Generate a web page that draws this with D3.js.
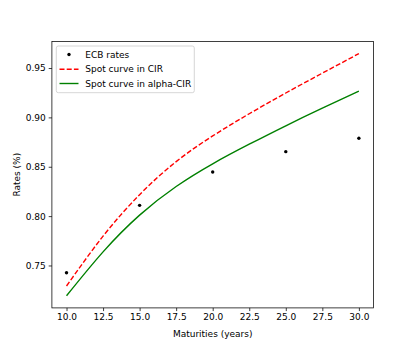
<!DOCTYPE html>
<html>
<head>
<meta charset="utf-8">
<script src="https://cdn.jsdelivr.net/npm/d3@7"></script>
<style>
  html, body { margin: 0; padding: 0; background: #fff; }
  svg { display: block; }
  text { font-family: "DejaVu Sans", sans-serif; }
</style>
</head>
<body>
<svg id="chart" width="415" height="346"></svg>
<script>
// ---- data ----
const maturities = [10, 15, 20, 25, 30];
const ecbRates = [0.7426, 0.8109, 0.8447, 0.8653, 0.8788];
const curveMaturities = [10, 12.5, 15, 17.5, 20, 22.5, 25, 27.5, 30];
const cirSpot = [0.7292, 0.7797, 0.8217, 0.8552, 0.8812, 0.9037, 0.9247, 0.9448, 0.9646];
const alphaCirSpot = [0.7193, 0.7638, 0.8010, 0.8300, 0.8530, 0.8728, 0.8915, 0.9093, 0.9265];
const xTicks = [10, 12.5, 15, 17.5, 20, 22.5, 25, 27.5, 30];
const yTicks = [0.75, 0.80, 0.85, 0.90, 0.95];
const legendLabels = ["ECB rates", "Spot curve in CIR", "Spot curve in alpha-CIR"];
const xLabel = "Maturities (years)";
const yLabel = "Rates (%)";

(function () {
// ---- layout ----
const mLeft = 51.9, mRight = 373.5, mTop = 41.5, mBottom = 307.9;
const svg = d3.select("#chart");

const allX = maturities.concat(curveMaturities);
const allY = ecbRates.concat(cirSpot, alphaCirSpot);
const [x0, x1] = d3.extent(allX);
const [y0, y1] = d3.extent(allY);
const mx = (x1 - x0) * 0.05, my = (y1 - y0) * 0.05;

const x = d3.scaleLinear().domain([x0 - mx, x1 + mx]).range([mLeft, mRight]);
const y = d3.scaleLinear().domain([y0 - my, y1 + my]).range([mBottom, mTop]);

const fontSize = 9;

// axes
const xAxis = d3.axisBottom(x).tickValues(xTicks).tickFormat(d3.format(".1f"))
  .tickSizeInner(3.2).tickSizeOuter(0).tickPadding(3);
const yAxis = d3.axisLeft(y).tickValues(yTicks).tickFormat(d3.format(".2f"))
  .tickSizeInner(3.2).tickSizeOuter(0).tickPadding(3);

const gx = svg.append("g").attr("transform", `translate(0,${mBottom})`).call(xAxis);
const gy = svg.append("g").attr("transform", `translate(${mLeft},0)`).call(yAxis);
[gx, gy].forEach(g => {
  g.select(".domain").remove();
  g.selectAll(".tick line").attr("stroke", "#000").attr("stroke-width", 0.75);
  g.selectAll(".tick text").attr("fill", "#000")
    .style("font-family", "'DejaVu Sans', sans-serif").style("font-size", fontSize + "px");
});

// clip
svg.append("clipPath").attr("id", "clip").append("rect")
  .attr("x", mLeft).attr("y", mTop).attr("width", mRight - mLeft).attr("height", mBottom - mTop);

const plot = svg.append("g").attr("clip-path", "url(#clip)");

const line = (ys) => d3.line()
  .x((d, i) => x(curveMaturities[i]))
  .y(d => y(d))
  .curve(d3.curveNatural)(ys);

plot.append("path").attr("d", line(cirSpot))
  .attr("fill", "none").attr("stroke", "#ff0000").attr("stroke-width", 1.4)
  .attr("stroke-dasharray", "5,2.2");

plot.append("path").attr("d", line(alphaCirSpot))
  .attr("fill", "none").attr("stroke", "#008000").attr("stroke-width", 1.4);

plot.selectAll("circle.ecb").data(maturities).enter().append("circle")
  .attr("class", "ecb")
  .attr("cx", d => x(d))
  .attr("cy", (d, i) => y(ecbRates[i]))
  .attr("r", 1.7).attr("fill", "#000");

// frame
svg.append("rect").attr("x", mLeft).attr("y", mTop)
  .attr("width", mRight - mLeft).attr("height", mBottom - mTop)
  .attr("fill", "none").attr("stroke", "#000").attr("stroke-width", 0.75);

// labels
svg.append("text").attr("x", (mLeft + mRight) / 2).attr("y", 336.5)
  .attr("text-anchor", "middle").style("font-size", fontSize + "px").attr("fill", "#000")
  .text(xLabel);
svg.append("text")
  .attr("transform", `translate(19.5,${(mTop + mBottom) / 2}) rotate(-90)`)
  .attr("text-anchor", "middle").style("font-size", fontSize + "px").attr("fill", "#000")
  .text(yLabel);

// legend
const lg = svg.append("g");
lg.append("rect").attr("x", 56.3).attr("y", 46).attr("width", 138).attr("height", 46.7)
  .attr("rx", 2).attr("ry", 2)
  .attr("fill", "#fff").attr("fill-opacity", 0.8)
  .attr("stroke", "#cccccc").attr("stroke-width", 0.8);
const rowY = [54.5, 69.2, 83.5];
legendLabels.forEach((lab, i) => {
  const cy = rowY[i];
  if (i === 0) {
    lg.append("circle").attr("cx", 69).attr("cy", cy).attr("r", 1.7).attr("fill", "#000");
  } else {
    lg.append("line").attr("x1", 59.5).attr("x2", 78.5).attr("y1", cy).attr("y2", cy)
      .attr("stroke", i === 1 ? "#ff0000" : "#008000").attr("stroke-width", 1.4)
      .attr("stroke-dasharray", i === 1 ? "5,2.2" : null);
  }
  lg.append("text").attr("x", 85.3).attr("y", cy).attr("dy", "0.35em")
    .style("font-size", fontSize + "px").attr("fill", "#000").text(lab);
});
})();
</script>
</body>
</html>
